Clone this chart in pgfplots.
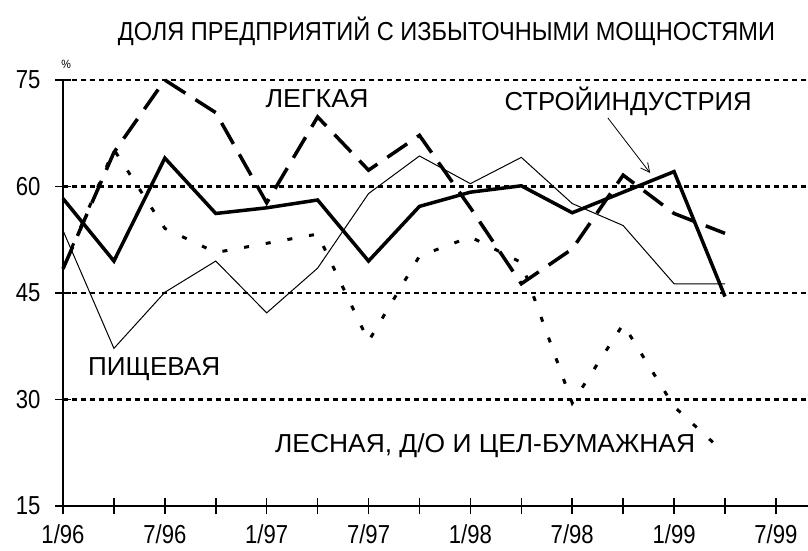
\documentclass[border=0pt]{standalone}
\usepackage{fontspec}
\setmainfont{Liberation Sans}[FakeStretch=0.9]
\newfontfamily\tickfont{Liberation Sans}[FakeStretch=0.85]
\usepackage{pgfplots}
\pgfplotsset{compat=1.18}
\usetikzlibrary{arrows.meta}
\newcommand{\lbl}[2]{\fontsize{26}{29}\selectfont\resizebox{#1}{\height}{#2}}
\begin{document}
\begin{tikzpicture}
\useasboundingbox (-63pt,-45pt) rectangle (745pt,506pt);
\begin{axis}[
 at={(0,0)}, anchor=south west,
 scale only axis, width=745pt, height=426pt,
 xmin=0, xmax=14.63, ymin=15, ymax=75,
 axis x line=bottom, axis y line=left,
 axis line style={-, line width=2pt},
 xtick={0,...,14},
 xticklabels={1/96,,7/96,,1/97,,7/97,,1/98,,7/98,,1/99,,7/99},
 ytick={15,30,45,60,75},
 tick align=center, major tick length=16pt,
 tick style={line width=1.5pt, black},
 ymajorgrids,
 major grid style={line width=2.4pt, dash pattern=on 5pt off 4pt, black},
 tick label style={font=\tickfont\fontsize{26}{29}\selectfont},
 xticklabel style={inner sep=0pt, yshift=-10pt},
 yticklabel style={xshift=-11pt},
 /pgf/number format/assume math mode=true,
 clip=false,
 no markers,
]
% ПИЩЕВАЯ
\addplot[black, line width=1pt] coordinates {
(0,53.8) (1,37.2) (2,45.1) (3,49.5) (4,42.2) (5,48.5) (6,59.0) (7,64.3)
(8,60.4) (9,64.1) (10,57.6) (11,54.5) (12,46.3) (13,46.3)};
% ЛЕГКАЯ
\addplot[black, line width=3.5pt, dash pattern=on 24pt off 12pt] coordinates {
(0,48.4) (1,64.8) (2,75.0) (3,70.4) (4,57.7) (5,69.8) (6,62.3) (7,67.2)
(8,57.0) (9,46.3) (10,51.2) (11,61.6) (12,56.2) (13,53.4)};
% ЛЕСНАЯ
\addplot[black, line width=3pt, dash pattern=on 5pt off 17pt] coordinates {
(0,48.5) (1,65.2) (2,54.1) (3,50.7) (4,52.0) (5,53.3) (6,38.2) (7,50.2)
(8,52.9) (9,49.3) (10,29.5) (11,40.6) (12,29.0) (13,22.4)};
% СТРОЙИНДУСТРИЯ
\addplot[black, line width=3.5pt] coordinates {
(0,58.3) (1,49.5) (2,64.0) (3,56.2) (4,57.0) (5,58.1) (6,49.5) (7,57.2)
(8,59.2) (9,60.1) (10,56.3) (11,59.2) (12,62.1) (13,44.5)};

\node[anchor=base, inner sep=0pt] at (axis cs:7.53,80.63) {\lbl{657pt}{ДОЛЯ ПРЕДПРИЯТИЙ С ИЗБЫТОЧНЫМИ МОЩНОСТЯМИ}};
\node[anchor=base, inner sep=0pt] at (axis cs:0.06,76.55) {\fontsize{12}{13}\selectfont\%};
\node[anchor=base, inner sep=0pt] at (axis cs:4.99,71.06) {\lbl{103pt}{ЛЕГКАЯ}};
\node[anchor=base, inner sep=0pt] at (axis cs:11.10,70.77) {\lbl{247pt}{СТРОЙИНДУСТРИЯ}};
\node[anchor=base, inner sep=0pt] at (axis cs:1.79,33.45) {\lbl{132pt}{ПИЩЕВАЯ}};
\node[anchor=base, inner sep=0pt] at (axis cs:8.29,22.6) {\lbl{420pt}{ЛЕСНАЯ, Д/О И ЦЕЛ-БУМАЖНАЯ}};
\draw[black, line width=0.8pt, -{Straight Barb[length=9pt,width=9pt]}] (axis cs:10.70,69.65) -- (axis cs:11.53,61.9);
\end{axis}
\end{tikzpicture}
\end{document}
